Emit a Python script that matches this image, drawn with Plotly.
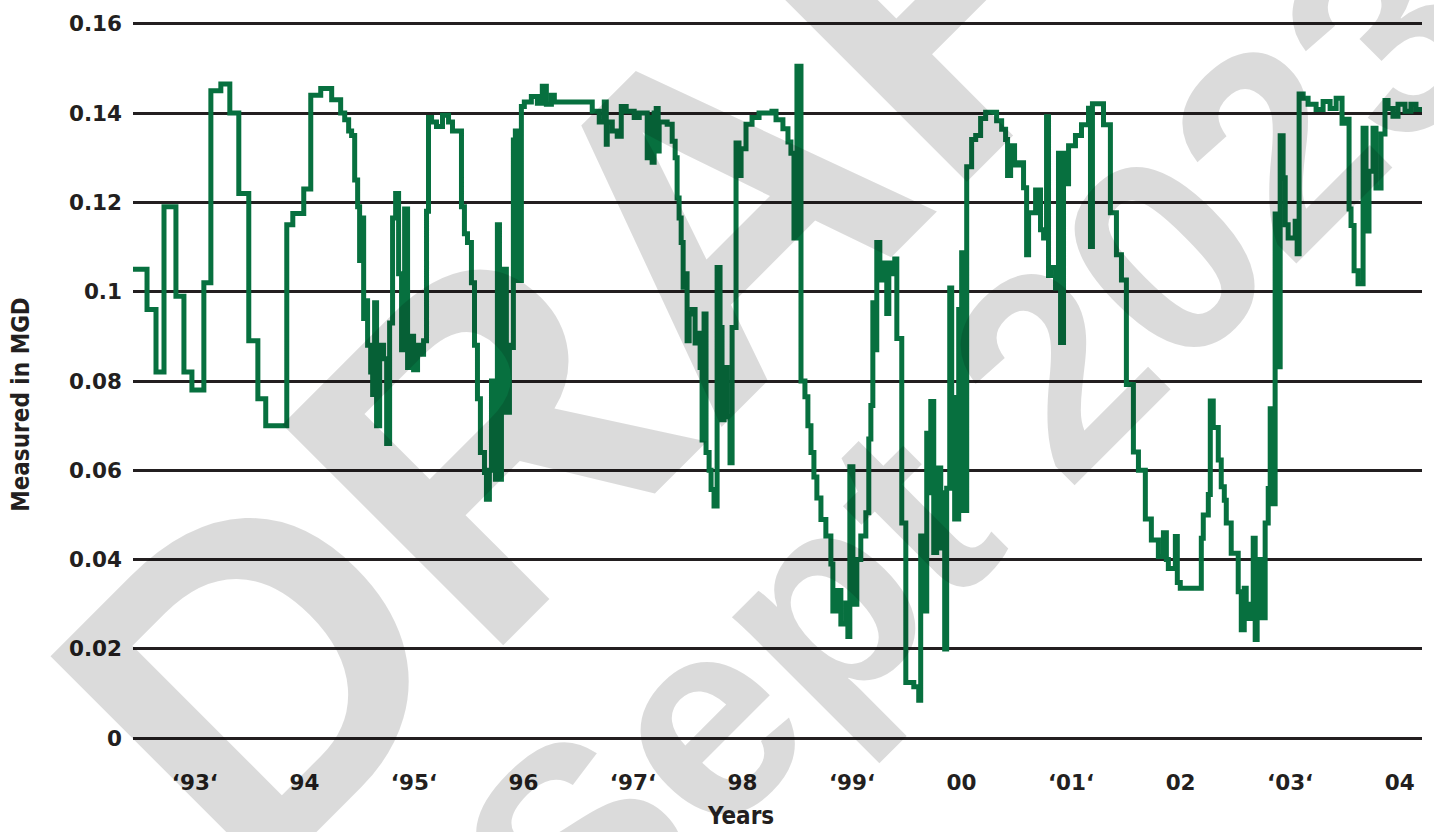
import plotly.graph_objects as go

# Flow readings (decimal year, MGD)
years = [
    1992.435, 1992.563, 1992.645, 1992.718, 1992.827, 1992.900, 1992.973, 1993.082,
    1993.146, 1993.237, 1993.319, 1993.401, 1993.492, 1993.575, 1993.647, 1993.839,
    1993.894, 1993.994, 1994.058, 1994.149, 1994.249, 1994.331, 1994.368, 1994.404,
    1994.431, 1994.459, 1994.486, 1994.504, 1994.523, 1994.541, 1994.559, 1994.577,
    1994.605, 1994.623, 1994.641, 1994.659, 1994.687, 1994.723, 1994.751, 1994.778,
    1994.805, 1994.833, 1994.860, 1994.887, 1994.915, 1994.942, 1994.969, 1994.997,
    1995.033, 1995.060, 1995.088, 1995.115, 1995.133, 1995.161, 1995.206, 1995.261,
    1995.316, 1995.352, 1995.434, 1995.461, 1995.489, 1995.525, 1995.553, 1995.580,
    1995.607, 1995.644, 1995.662, 1995.689, 1995.708, 1995.726, 1995.744, 1995.762,
    1995.781, 1995.799, 1995.826, 1995.844, 1995.872, 1995.890, 1995.908, 1995.926,
    1995.945, 1995.981, 1996.008, 1996.072, 1996.127, 1996.172, 1996.209, 1996.255,
    1996.282, 1996.628, 1996.692, 1996.738, 1996.756, 1996.765, 1996.811, 1996.856,
    1996.893, 1996.938, 1997.011, 1997.057, 1997.130, 1997.148, 1997.175, 1997.193,
    1997.212, 1997.230, 1997.239, 1997.312, 1997.358, 1997.385, 1997.403, 1997.421,
    1997.440, 1997.458, 1997.476, 1997.494, 1997.513, 1997.540, 1997.567, 1997.585,
    1997.613, 1997.631, 1997.649, 1997.667, 1997.695, 1997.713, 1997.740, 1997.768,
    1997.795, 1997.813, 1997.832, 1997.859, 1997.886, 1997.905, 1997.941, 1997.968,
    1997.987, 1998.032, 1998.087, 1998.151, 1998.269, 1998.306, 1998.369, 1998.415,
    1998.442, 1998.470, 1998.497, 1998.534, 1998.570, 1998.597, 1998.625, 1998.652,
    1998.679, 1998.716, 1998.761, 1998.807, 1998.825, 1998.853, 1998.898, 1998.944,
    1998.962, 1998.980, 1999.008, 1999.044, 1999.080, 1999.126, 1999.153, 1999.172,
    1999.190, 1999.208, 1999.226, 1999.254, 1999.290, 1999.317, 1999.336, 1999.363,
    1999.390, 1999.409, 1999.454, 1999.491, 1999.564, 1999.609, 1999.627, 1999.655,
    1999.682, 1999.700, 1999.719, 1999.746, 1999.773, 1999.810, 1999.828, 1999.846,
    1999.864, 1999.892, 1999.910, 1999.937, 1999.974, 2000.001, 2000.019, 2000.047,
    2000.092, 2000.129, 2000.174, 2000.220, 2000.320, 2000.366, 2000.402, 2000.420,
    2000.448, 2000.484, 2000.521, 2000.566, 2000.594, 2000.612, 2000.676, 2000.721,
    2000.749, 2000.776, 2000.794, 2000.812, 2000.858, 2000.885, 2000.904, 2000.931,
    2000.949, 2000.977, 2001.040, 2001.095, 2001.159, 2001.177, 2001.195, 2001.296,
    2001.359, 2001.414, 2001.460, 2001.505, 2001.569, 2001.615, 2001.678, 2001.733,
    2001.797, 2001.843, 2001.870, 2001.888, 2001.952, 2001.970, 2001.997, 2002.189,
    2002.207, 2002.253, 2002.271, 2002.298, 2002.344, 2002.371, 2002.399, 2002.417,
    2002.462, 2002.526, 2002.554, 2002.581, 2002.599, 2002.636, 2002.663, 2002.681,
    2002.699, 2002.727, 2002.772, 2002.800, 2002.818, 2002.845, 2002.863, 2002.891,
    2002.909, 2002.936, 2002.955, 2002.982, 2003.046, 2003.064, 2003.082, 2003.119,
    2003.164, 2003.237, 2003.301, 2003.365, 2003.420, 2003.474, 2003.511, 2003.538,
    2003.556, 2003.584, 2003.620, 2003.666, 2003.693, 2003.720, 2003.757, 2003.784,
    2003.830, 2003.866, 2003.894, 2003.939, 2003.985, 2004.049, 2004.103, 2004.149,
    2004.204,
]

flow_mgd = [
    0.105, 0.096, 0.082, 0.119, 0.099, 0.082, 0.078, 0.102,
    0.145, 0.1465, 0.140, 0.122, 0.089, 0.076, 0.070, 0.115,
    0.1175, 0.123, 0.144, 0.1455, 0.143, 0.140, 0.1385, 0.136,
    0.135, 0.125, 0.119, 0.107, 0.1165, 0.094, 0.098, 0.088,
    0.082, 0.077, 0.0975, 0.070, 0.088, 0.085, 0.066, 0.093,
    0.1165, 0.122, 0.104, 0.087, 0.1185, 0.083, 0.090, 0.0825,
    0.088, 0.086, 0.089, 0.118, 0.139, 0.138, 0.137, 0.1395,
    0.138, 0.136, 0.119, 0.113, 0.111, 0.102, 0.088, 0.076,
    0.064, 0.0595, 0.0535, 0.060, 0.080, 0.065, 0.058, 0.115,
    0.058, 0.076, 0.105, 0.073, 0.088, 0.0875, 0.134, 0.136,
    0.1025, 0.1415, 0.1425, 0.1437, 0.1422, 0.146, 0.142, 0.144,
    0.1425, 0.1404, 0.138, 0.1425, 0.133, 0.138, 0.136, 0.1348,
    0.1415, 0.1404, 0.139, 0.140, 0.130, 0.139, 0.129, 0.140,
    0.141, 0.1315, 0.138, 0.1375, 0.1337, 0.130, 0.121, 0.1165,
    0.111, 0.101, 0.104, 0.089, 0.095, 0.096, 0.0885, 0.0907,
    0.083, 0.0668, 0.095, 0.064, 0.060, 0.0557, 0.052, 0.1054,
    0.092, 0.0713, 0.083, 0.072, 0.0617, 0.092, 0.1333, 0.126,
    0.132, 0.1375, 0.139, 0.140, 0.1404, 0.1385, 0.1365, 0.1335,
    0.131, 0.112, 0.1505, 0.080, 0.0765, 0.070, 0.064, 0.0585,
    0.0538, 0.049, 0.0453, 0.039, 0.0285, 0.0331, 0.0256, 0.0303,
    0.0228, 0.0608, 0.030, 0.040, 0.0453, 0.0505, 0.067, 0.0745,
    0.0975, 0.087, 0.111, 0.1026, 0.1064, 0.0951, 0.1064, 0.104,
    0.1073, 0.0895, 0.0482, 0.0125, 0.0115, 0.0085, 0.0453, 0.0285,
    0.0683, 0.055, 0.0754, 0.0416, 0.0605, 0.0426, 0.055, 0.020,
    0.056, 0.1008, 0.0763, 0.0491, 0.096, 0.1087, 0.051, 0.128,
    0.1341, 0.135, 0.1388, 0.1402, 0.1383, 0.1364, 0.1341, 0.126,
    0.1327, 0.1284, 0.1289, 0.1233, 0.1083, 0.1177, 0.1228, 0.1139,
    0.112, 0.1392, 0.1036, 0.1054, 0.1008, 0.131, 0.0886, 0.131,
    0.1242, 0.1327, 0.135, 0.1374, 0.1411, 0.1101, 0.1421, 0.1374,
    0.1177, 0.1083, 0.1026, 0.0792, 0.0641, 0.060, 0.0491, 0.0444,
    0.0407, 0.046, 0.040, 0.038, 0.0452, 0.0349, 0.0336, 0.0448,
    0.050, 0.0546, 0.0755, 0.0696, 0.0623, 0.0563, 0.0533, 0.0482,
    0.0414, 0.0328, 0.0243, 0.0336, 0.0268, 0.030, 0.0448, 0.0221,
    0.040, 0.027, 0.0482, 0.0559, 0.0738, 0.0525, 0.1174, 0.0832,
    0.1349, 0.1255, 0.115, 0.112, 0.1158, 0.1085, 0.1443, 0.1433,
    0.142, 0.1408, 0.1426, 0.141, 0.1433, 0.1377, 0.1386, 0.1185,
    0.1148, 0.1047, 0.1018, 0.1366, 0.1136, 0.127, 0.1366, 0.1232,
    0.1353, 0.1428, 0.141, 0.1393, 0.142, 0.1404, 0.142, 0.1408,
    0.1408,
]

year_ticks = [1993, 1994, 1995, 1996, 1997, 1998, 1999, 2000, 2001, 2002, 2003, 2004]
year_labels = ["‘93‘", "94", "‘95‘", "96", "‘97‘", "98", "‘99‘", "00", "‘01‘", "02", "‘03‘", "04"]
flow_ticks = [0, 0.02, 0.04, 0.06, 0.08, 0.1, 0.12, 0.14, 0.16]
flow_labels = ["0", "0.02", "0.04", "0.06", "0.08", "0.1", "0.12", "0.14", "0.16"]

INK = "#231f20"
GREEN = "#07703f"
TICK_FONT = dict(family="DejaVu Sans", size=21.5, color=INK, weight="bold")
TITLE_FONT = dict(family="DejaVu Sans Condensed, DejaVu Sans", size=24, color=INK, weight="bold")
STAMP_FONT = dict(family="Liberation Sans, Arial", color="rgba(0,0,0,0.14)", weight="bold")

fig = go.Figure()
fig.add_trace(go.Scatter(
    x=years, y=flow_mgd, mode="lines",
    line=dict(color=GREEN, width=5, shape="hv"),
    hoverinfo="x+y", showlegend=False,
))

fig.update_layout(
    width=1434, height=832,
    margin=dict(l=133, r=12, t=22, b=92),
    paper_bgcolor="white", plot_bgcolor="white",
    xaxis=dict(
        range=[years[0], years[-1]],
        tickmode="array", tickvals=year_ticks, ticktext=year_labels,
        showgrid=False, zeroline=False, showline=False, ticks="",
        tickfont=TICK_FONT, ticklabelstandoff=27,
    ),
    yaxis=dict(
        range=[-0.0004, 0.1604],
        tickmode="array", tickvals=flow_ticks, ticktext=flow_labels,
        showgrid=True, gridcolor=INK, gridwidth=2.5,
        zeroline=False, showline=False, ticks="",
        tickfont=TICK_FONT, ticklabelstandoff=10,
    ),
    annotations=[
        # diagonal draft stamp laid over the plot
        dict(text="DRAFT", xref="paper", yref="paper", x=0.426, y=0.692,
             xanchor="center", yanchor="middle", textangle=-45,
             showarrow=False, font=dict(STAMP_FONT, size=454)),
        dict(text="Sept 2023", xref="paper", yref="paper", x=0.6555, y=0.410,
             xanchor="center", yanchor="middle", textangle=-45,
             showarrow=False, font=dict(STAMP_FONT, size=282)),
        dict(text="Measured in MGD", xref="paper", yref="paper",
             x=-0.087, y=0.468, xanchor="center", yanchor="middle",
             textangle=-90, showarrow=False, font=TITLE_FONT),
        dict(text="Years", xref="paper", yref="paper",
             x=0.471, y=-0.106, xanchor="center", yanchor="middle",
             showarrow=False, font=TITLE_FONT),
    ],
)

fig.write_html("out.html")
